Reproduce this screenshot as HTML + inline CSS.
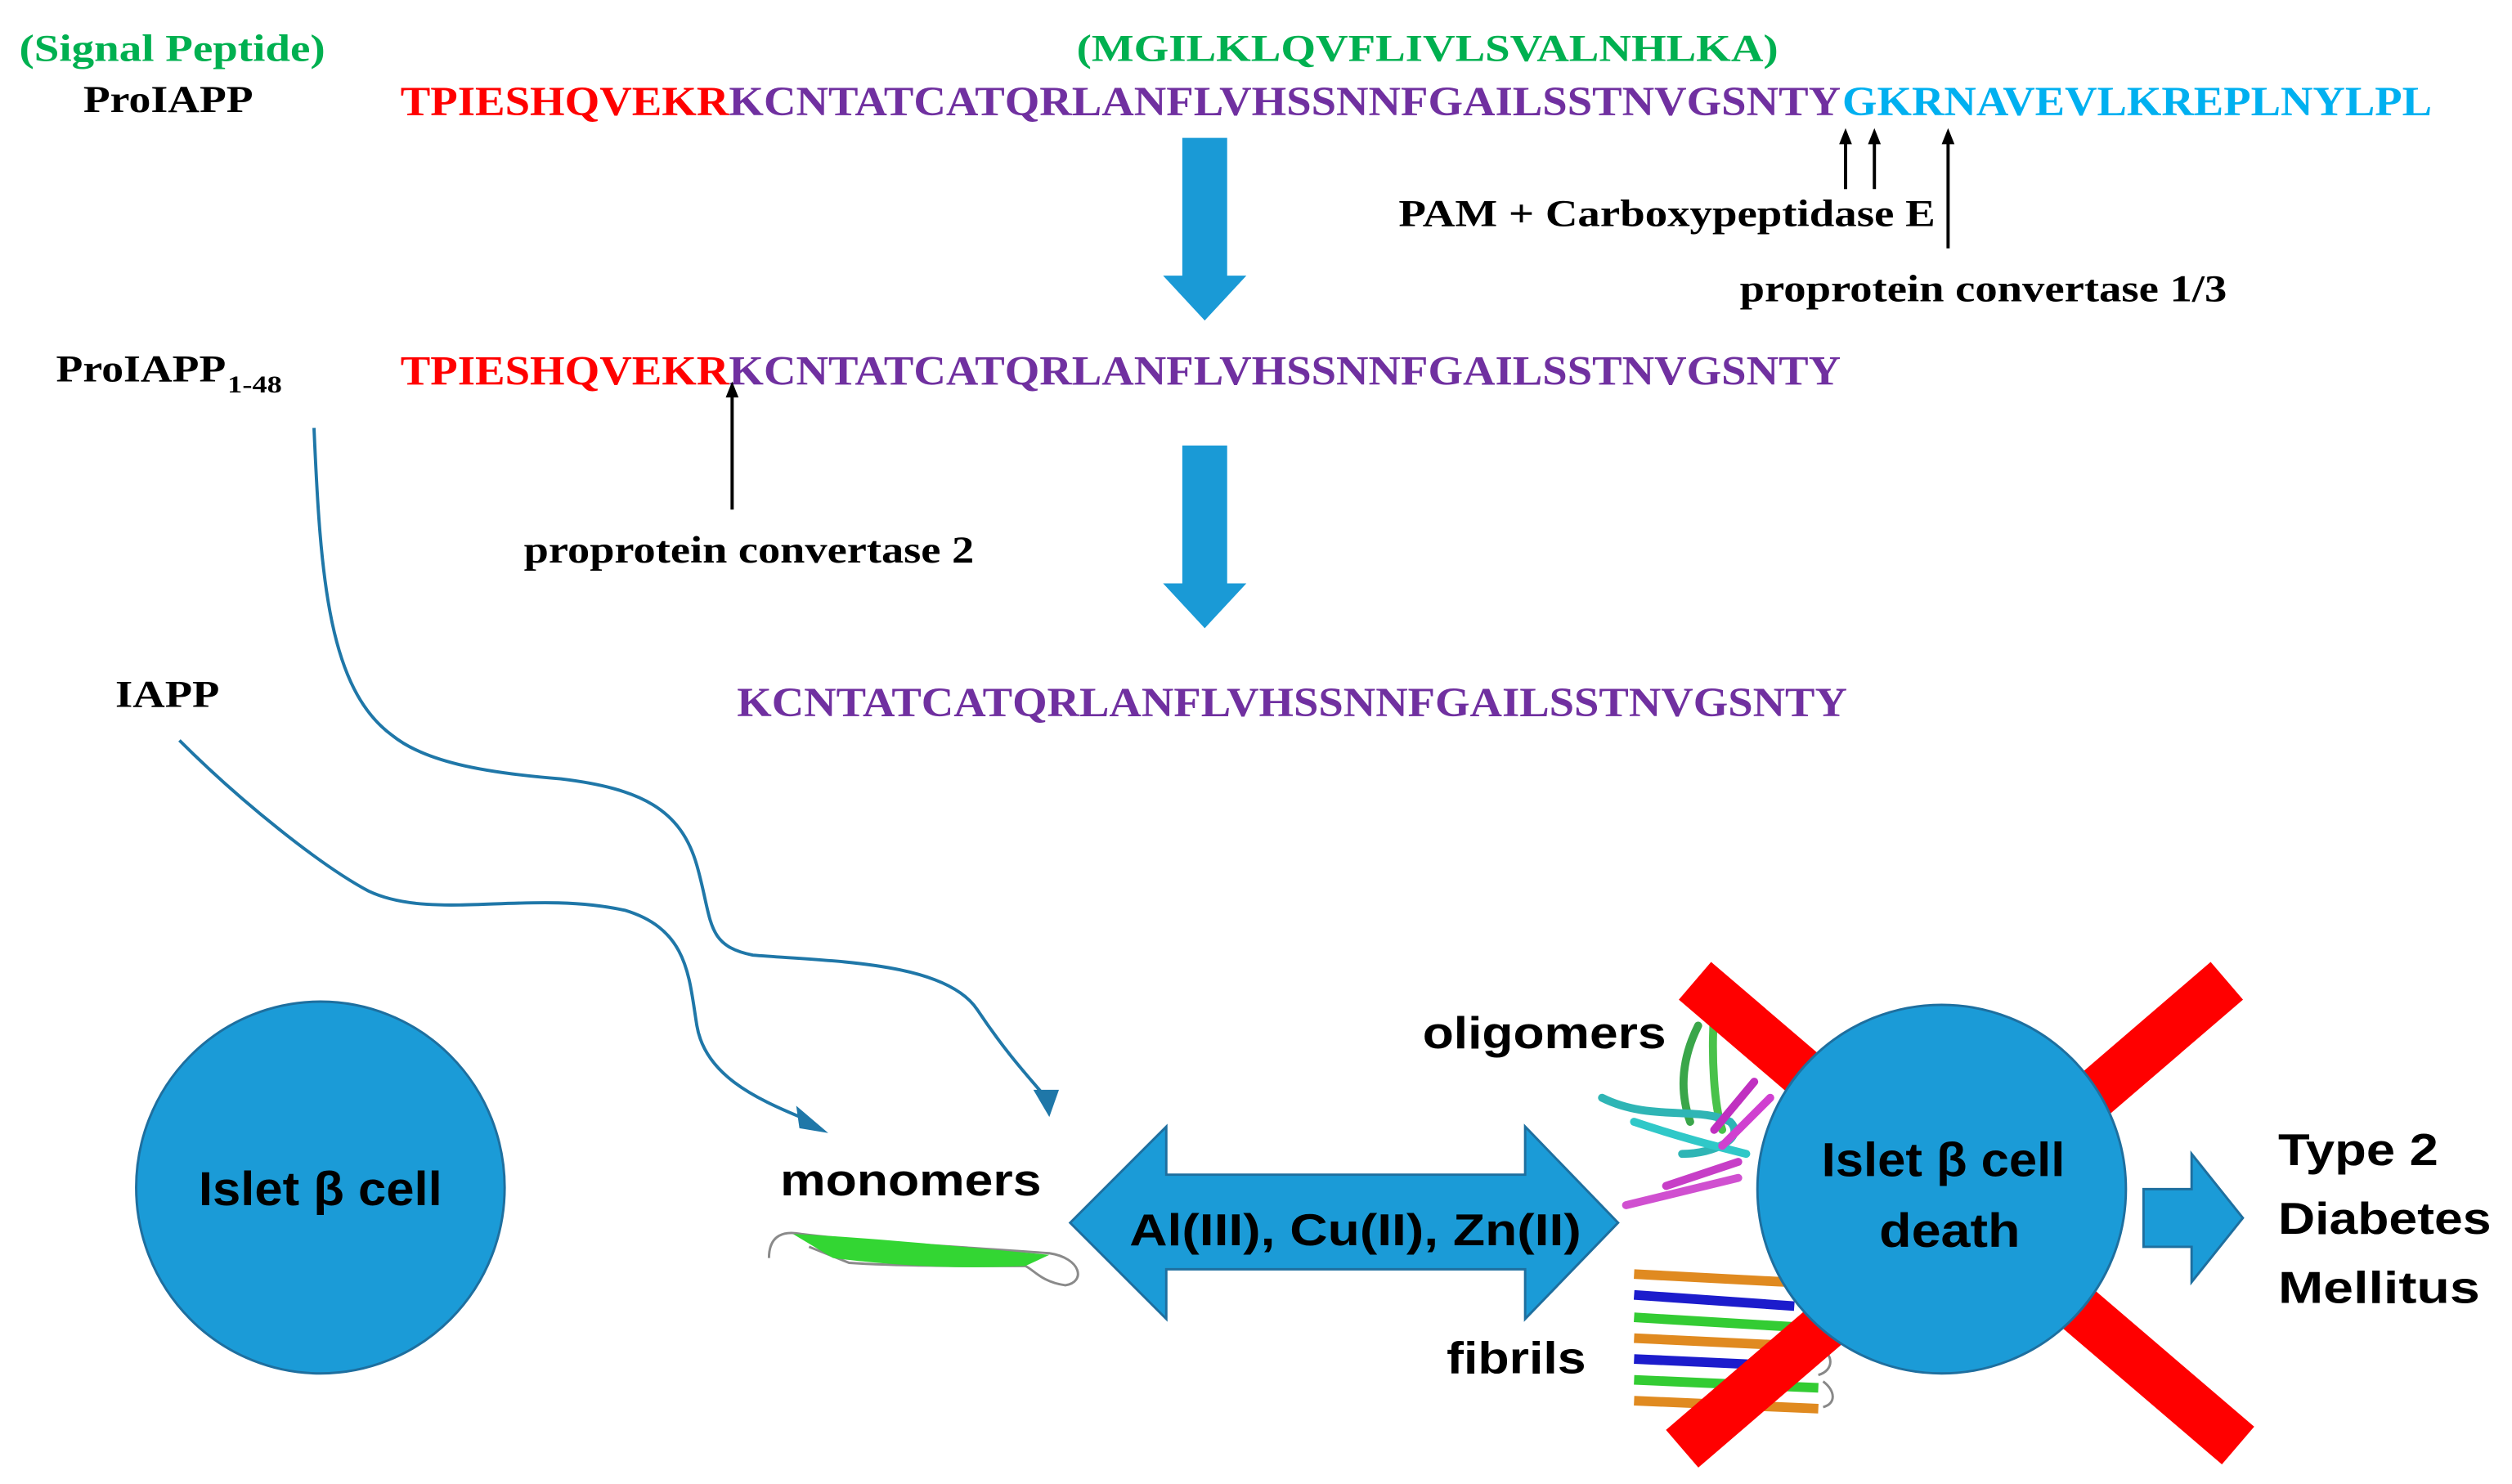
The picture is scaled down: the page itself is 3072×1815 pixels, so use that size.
<!DOCTYPE html>
<html><head><meta charset="utf-8"><style>html,body{margin:0;padding:0;background:#fff}svg{display:block}</style></head>
<body>
<svg width="3072" height="1815" viewBox="0 0 1568 926" preserveAspectRatio="none" xmlns="http://www.w3.org/2000/svg">
<rect width="1568" height="926" fill="#fff"/>
<g font-family="Liberation Serif, serif" font-weight="bold">
<text x="12" y="38" font-size="24" fill="#00b050" textLength="191" lengthAdjust="spacingAndGlyphs">(Signal Peptide)</text>
<text x="672" y="38" font-size="24" fill="#00b050" textLength="438" lengthAdjust="spacingAndGlyphs">(MGILKLQVFLIVLSVALNHLKA)</text>
<text x="52" y="70" font-size="24" fill="#000" textLength="106" lengthAdjust="spacingAndGlyphs">ProIAPP</text>
<text x="250" y="72" font-size="26" fill="#ff0000" textLength="205" lengthAdjust="spacingAndGlyphs">TPIESHQVEKR</text>
<text x="455" y="72" font-size="26" fill="#7030a0" textLength="694" lengthAdjust="spacingAndGlyphs">KCNTATCATQRLANFLVHSSNNFGAILSSTNVGSNTY</text>
<text x="1150" y="72" font-size="26" fill="#00b0f0" textLength="368" lengthAdjust="spacingAndGlyphs">GKRNAVEVLKREPLNYLPL</text>
<text x="873" y="141" font-size="24" fill="#000" textLength="335" lengthAdjust="spacingAndGlyphs">PAM + Carboxypeptidase E</text>
<text x="1086" y="188" font-size="24" fill="#000" textLength="304" lengthAdjust="spacingAndGlyphs">proprotein convertase 1/3</text>
<text x="35" y="238" font-size="24" fill="#000" textLength="106" lengthAdjust="spacingAndGlyphs">ProIAPP</text>
<text x="142" y="245" font-size="15" fill="#000" textLength="34" lengthAdjust="spacingAndGlyphs">1-48</text>
<text x="250" y="240" font-size="26" fill="#ff0000" textLength="205" lengthAdjust="spacingAndGlyphs">TPIESHQVEKR</text>
<text x="455" y="240" font-size="26" fill="#7030a0" textLength="694" lengthAdjust="spacingAndGlyphs">KCNTATCATQRLANFLVHSSNNFGAILSSTNVGSNTY</text>
<text x="327" y="351" font-size="24" fill="#000" textLength="281" lengthAdjust="spacingAndGlyphs">proprotein convertase 2</text>
<text x="72" y="441" font-size="24" fill="#000" textLength="65" lengthAdjust="spacingAndGlyphs">IAPP</text>
<text x="460" y="447" font-size="26" fill="#7030a0" textLength="693" lengthAdjust="spacingAndGlyphs">KCNTATCATQRLANFLVHSSNNFGAILSSTNVGSNTY</text>
</g>
<polygon points="738,86 766,86 766,172 778,172 752,200 726,172 738,172" fill="#1a9ad6"/>
<polygon points="738,278 766,278 766,364 778,364 752,392 726,364 738,364" fill="#1a9ad6"/>
<g stroke="#000" stroke-width="2" fill="#000">
<line x1="1152" y1="118" x2="1152" y2="88"/><polygon points="1148,90 1156,90 1152,80" stroke="none"/>
<line x1="1170" y1="118" x2="1170" y2="88"/><polygon points="1166,90 1174,90 1170,80" stroke="none"/>
<line x1="1216" y1="155" x2="1216" y2="88"/><polygon points="1212,90 1220,90 1216,80" stroke="none"/>
<line x1="457" y1="318" x2="457" y2="246"/><polygon points="453,248 461,248 457,238" stroke="none"/>
</g>
<g fill="none" stroke="#1f77a8" stroke-width="2">
<path d="M196,267 C200,360 205,430 245,459 C265,475 300,482 350,486 C400,492 425,505 435,540 C445,575 440,590 470,596 C520,600 590,600 610,630 C630,660 645,675 652,684"/>
<path d="M112,462 C150,500 200,540 230,556 C270,575 330,555 390,568 C430,580 430,610 435,640 C440,670 470,685 502,698"/>
</g>
<polygon points="645,680 661,680 655,697" fill="#1f77a8"/>
<polygon points="497,690 517,707 499,704" fill="#1f77a8"/>
<ellipse cx="200" cy="741" rx="115" ry="116" fill="#1b9bd7" stroke="#1e6f9f" stroke-width="1.5"/>
<g font-family="Liberation Sans, sans-serif" font-weight="bold" fill="#000">
<text x="200" y="752" font-size="30" text-anchor="middle" textLength="152" lengthAdjust="spacingAndGlyphs">Islet β cell</text>
<text x="487" y="746" font-size="28" textLength="163" lengthAdjust="spacingAndGlyphs">monomers</text>
</g>
<path d="M480,785 C480,770 490,768 500,770 C540,775 600,778 655,782 C675,785 678,800 665,802 C650,800 645,792 640,790 C600,790 560,790 530,788 L505,778" fill="none" stroke="#8a8a8a" stroke-width="1.5"/>
<path d="M495,770 C540,772 600,778 655,783 L640,790 C600,792 560,790 520,785 Z" fill="#33d633"/>
<polygon points="668,763 728,703 728,733 952,733 952,703 1010,763 952,823 952,792 728,792 728,823" fill="#1b9bd7" stroke="#1e6f9f" stroke-width="1.5"/>
<text x="846" y="777" font-family="Liberation Sans, sans-serif" font-weight="bold" font-size="28" text-anchor="middle" textLength="282" lengthAdjust="spacingAndGlyphs">Al(III), Cu(II), Zn(II)</text>
<g fill="none" stroke-width="5" stroke-linecap="round">
<path d="M1060,640 C1050,660 1048,680 1055,700" stroke="#3aa64a"/>
<path d="M1070,630 C1068,660 1070,690 1075,705" stroke="#49c24a"/>
<path d="M1000,685 C1030,700 1060,690 1080,700 C1090,710 1070,720 1050,720" stroke="#2fb5b5"/>
<path d="M1020,700 C1050,710 1070,715 1090,720" stroke="#30c8c8"/>
<path d="M1095,675 L1070,705" stroke="#c030c0"/>
<path d="M1105,685 L1075,715" stroke="#d040d0"/>
<path d="M1085,725 L1040,740" stroke="#c73ec7"/>
<path d="M1085,735 L1015,752" stroke="#d050d0"/>
</g>
<g fill="none" stroke-width="6">
<path d="M1020,795 L1115,800" stroke="#e08a20"/>
<path d="M1020,808 L1120,815" stroke="#1c1ccc"/>
<path d="M1020,822 L1120,828" stroke="#33cc33"/>
<path d="M1020,835 L1125,840" stroke="#e08a20"/>
<path d="M1020,848 L1130,853" stroke="#1c1ccc"/>
<path d="M1020,861 L1135,866" stroke="#33cc33"/>
<path d="M1020,874 L1135,879" stroke="#e08a20"/>
</g>
<path d="M1135,840 C1145,845 1145,855 1135,858 M1138,862 C1146,868 1146,876 1138,878" fill="none" stroke="#888" stroke-width="1.5"/>
<g stroke="#ff0000" stroke-width="31" stroke-linecap="butt">
<line x1="1058" y1="612" x2="1397" y2="902"/>
<line x1="1390" y1="612" x2="1050" y2="904"/>
</g>
<ellipse cx="1212" cy="742" rx="115" ry="115" fill="#1b9bd7" stroke="#1e6f9f" stroke-width="1.5"/>
<g font-family="Liberation Sans, sans-serif" font-weight="bold" fill="#000">
<text x="1213" y="734" font-size="30" text-anchor="middle" textLength="152" lengthAdjust="spacingAndGlyphs">Islet β cell</text>
<text x="1217" y="778" font-size="30" text-anchor="middle" textLength="88" lengthAdjust="spacingAndGlyphs">death</text>
<text x="888" y="654" font-size="28" textLength="152" lengthAdjust="spacingAndGlyphs">oligomers</text>
<text x="903" y="857" font-size="28" textLength="87" lengthAdjust="spacingAndGlyphs">fibrils</text>
<text x="1422" y="727" font-size="28" textLength="100" lengthAdjust="spacingAndGlyphs">Type 2</text>
<text x="1422" y="770" font-size="28" textLength="133" lengthAdjust="spacingAndGlyphs">Diabetes</text>
<text x="1422" y="813" font-size="28" textLength="126" lengthAdjust="spacingAndGlyphs">Mellitus</text>
</g>
<polygon points="1338,742 1368,742 1368,720 1400,760 1368,800 1368,778 1338,778" fill="#1b9bd7" stroke="#1e6f9f" stroke-width="1.5"/>
</svg>
</body></html>
